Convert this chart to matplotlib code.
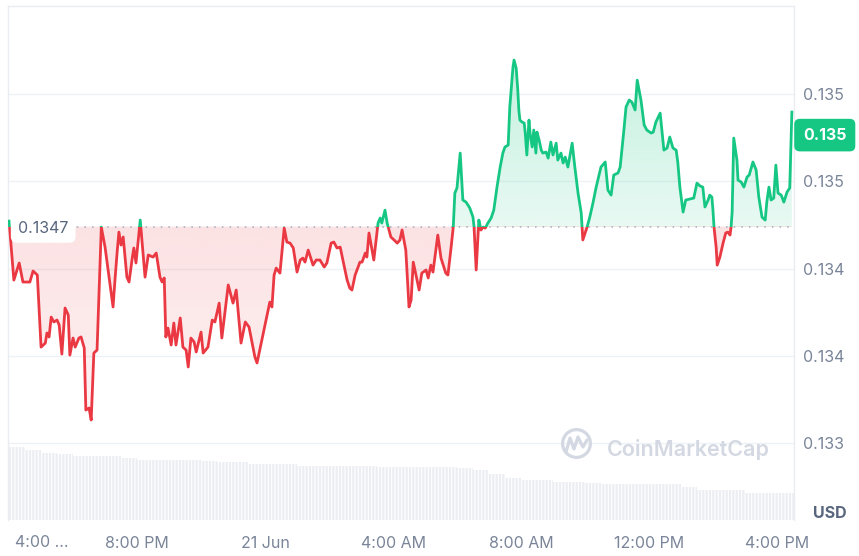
import numpy as np
import matplotlib
matplotlib.use('Agg')
import matplotlib.pyplot as plt
from matplotlib.colors import to_rgb
from matplotlib.patches import Polygon, Rectangle

# price chart, 1 day, minutes counted from 4:00 PM (20 Jun)

GREEN = '#16c784'
RED = '#ea3943'
LABEL_GRAY = '#7a8599'
GRID = '#eff2f5'

minutes = [
    0, 9, 19, 26, 39, 45, 53, 60, 68, 71, 75, 79, 84, 90, 94, 99, 105, 111, 114, 120,
    124, 131, 135, 141, 144, 150, 154, 159, 165, 173, 180, 195, 199, 203, 206, 210, 214, 221, 225, 231,
    234, 238, 246, 255, 261, 270, 276, 283, 287, 291, 294, 298, 304, 309, 313, 321, 326, 332, 336, 341,
    347, 351, 360, 364, 373, 381, 386, 394, 399, 411, 420, 426, 435, 443, 450, 461, 465, 482, 489, 493,
    497, 501, 508, 516, 521, 527, 533, 540, 546, 551, 555, 561, 570, 576, 583, 591, 596, 604, 609, 615,
    621, 626, 634, 639, 643, 649, 658, 662, 668, 671, 675, 684, 692, 696, 699, 705, 709, 716, 722, 728,
    733, 737, 744, 750, 754, 758, 769, 774, 782, 786, 791, 795, 804, 810, 819, 823, 829, 833, 836, 840,
    846, 851, 857, 864, 870, 872, 876, 881, 885, 889, 893, 898, 904, 909, 915, 921, 926, 930, 936, 939,
    945, 947, 951, 954, 956, 958, 962, 966, 968, 971, 975, 977, 981, 984, 988, 990, 994, 998, 1001, 1007,
    1011, 1016, 1020, 1026, 1029, 1035, 1039, 1043, 1048, 1056, 1061, 1067, 1073, 1076, 1084, 1089, 1095, 1101, 1110, 1118,
    1123, 1129, 1134, 1142, 1146, 1153, 1157, 1163, 1168, 1174, 1178, 1185, 1191, 1196, 1204, 1208, 1213, 1221, 1228, 1234,
    1239, 1245, 1251, 1254, 1258, 1264, 1269, 1277, 1284, 1290, 1296, 1301, 1305, 1311, 1314, 1318, 1320, 1322, 1326, 1328,
    1333, 1339, 1344, 1348, 1352, 1354, 1356, 1359, 1365, 1367, 1373, 1378, 1384, 1388, 1395, 1401, 1406, 1412, 1418, 1421,
    1425, 1429, 1434, 1438, 1442, 1448, 1453, 1459, 1464, 1468,
]

price = [
    0.134722, 0.134384, 0.134482, 0.134373, 0.134373, 0.134436, 0.134413, 0.134000, 0.134023, 0.134081,
    0.134058, 0.134172, 0.134144, 0.134155, 0.134126, 0.133960, 0.134224, 0.134184, 0.133954, 0.134052,
    0.134000, 0.134052, 0.134058, 0.133995, 0.133639, 0.133651, 0.133582, 0.133966, 0.133983, 0.134688,
    0.134573, 0.134230, 0.134401, 0.134556, 0.134659, 0.134585, 0.134631, 0.134401, 0.134373, 0.134510,
    0.134568, 0.134482, 0.134728, 0.134401, 0.134528, 0.134516, 0.134539, 0.134401, 0.134373, 0.134396,
    0.134058, 0.134109, 0.134012, 0.134138, 0.134012, 0.134167, 0.134000, 0.133983, 0.133886, 0.134052,
    0.134029, 0.133972, 0.134086, 0.133966, 0.134000, 0.134155, 0.134144, 0.134252, 0.134052, 0.134356,
    0.134252, 0.134327, 0.134023, 0.134144, 0.134115, 0.133943, 0.133909, 0.134155, 0.134258, 0.134230,
    0.134413, 0.134453, 0.134424, 0.134682, 0.134602, 0.134596, 0.134568, 0.134430, 0.134499, 0.134510,
    0.134487, 0.134556, 0.134470, 0.134499, 0.134499, 0.134459, 0.134482, 0.134596, 0.134602, 0.134568,
    0.134573, 0.134499, 0.134384, 0.134338, 0.134327, 0.134413, 0.134487, 0.134487, 0.134539, 0.134516,
    0.134654, 0.134499, 0.134711, 0.134740, 0.134711, 0.134785, 0.134711, 0.134631, 0.134614, 0.134596,
    0.134614, 0.134671, 0.134556, 0.134230, 0.134270, 0.134487, 0.134327, 0.134424, 0.134442, 0.134396,
    0.134470, 0.134430, 0.134642, 0.134510, 0.134424, 0.134413, 0.134573, 0.134688, 0.134883, 0.134912,
    0.135112, 0.134843, 0.134831, 0.134797, 0.134745, 0.134688, 0.134442, 0.134728, 0.134671, 0.134688,
    0.134682, 0.134711, 0.134740, 0.134785, 0.134917, 0.135032, 0.135112, 0.135147, 0.135158, 0.135376,
    0.135605, 0.135645, 0.135599, 0.135473, 0.135359, 0.135301, 0.135290, 0.135284, 0.135227, 0.135101,
    0.135301, 0.135227, 0.135147, 0.135244, 0.135112, 0.135232, 0.135187, 0.135129, 0.135112, 0.135118,
    0.135083, 0.135175, 0.135101, 0.135169, 0.135072, 0.135112, 0.135055, 0.135089, 0.135032, 0.135169,
    0.135032, 0.134883, 0.134768, 0.134614, 0.134688, 0.134745, 0.134826, 0.134917, 0.135032, 0.135061,
    0.134900, 0.134871, 0.134986, 0.134998, 0.135032, 0.135244, 0.135376, 0.135416, 0.135404, 0.135359,
    0.135530, 0.135416, 0.135273, 0.135244, 0.135227, 0.135232, 0.135290, 0.135341, 0.135129, 0.135141,
    0.135204, 0.135141, 0.135129, 0.135061, 0.134917, 0.134774, 0.134843, 0.134849, 0.134854, 0.134940,
    0.134923, 0.134917, 0.134803, 0.134843, 0.134871, 0.134860, 0.134785, 0.134688, 0.134573, 0.134470,
    0.134516, 0.134596, 0.134654, 0.134659, 0.134642, 0.134688, 0.134774, 0.135198, 0.135072, 0.134957,
    0.134946, 0.134917, 0.134975, 0.134986, 0.135061, 0.135015, 0.134860, 0.134745, 0.134728, 0.134831,
    0.134917, 0.134843, 0.134854, 0.135043, 0.134883, 0.134871, 0.134831, 0.134889, 0.134912, 0.135347,
]

# rolling 24h volume (millions), one value per 30 min slot
vol_m = [
    7.26, 7.0, 6.7, 6.6, 6.45, 6.45, 6.45, 6.25, 6.0, 6.0,
    6.0, 6.0, 5.9, 5.8, 5.8, 5.64, 5.64, 5.6, 5.44, 5.44,
    5.44, 5.44, 5.44, 5.3, 5.3, 5.3, 5.3, 5.3, 5.2, 5.0,
    4.6, 4.2, 4.03, 4.0, 3.8, 3.8, 3.7, 3.56, 3.56, 3.56,
    3.56, 3.56, 3.3, 3.0, 2.96, 2.96, 2.7, 2.7, 2.7, 2.7,
]
vol_start = np.arange(len(vol_m)) * 30

open_price = 0.13469
open_label = '0.1347'
last_price = 0.135215
last_label = '0.135'

y_ticks = [0.13345, 0.13395, 0.13445, 0.13495, 0.13545]
y_tick_labels = ['0.133', '0.134', '0.134', '0.135', '0.135']
x_ticks = [240, 480, 720, 960, 1200, 1440]
x_tick_labels = ['8:00 PM', '21 Jun', '4:00 AM', '8:00 AM', '12:00 PM', '4:00 PM']

plt.rcParams['font.family'] = ['Inter', 'DejaVu Sans']

xmin, xmax = -2, 1472
ymin, ymax = 0.133009, 0.135955

fig = plt.figure(figsize=(8.59, 5.56), dpi=100)
ax = fig.add_axes([8 / 859, 36 / 556, 786 / 859, 514 / 556])
ax_vol = ax.twinx()
ax.set_zorder(ax_vol.get_zorder() + 1)
ax.patch.set_visible(False)

# volume bars in the background
plt.rcParams['hatch.linewidth'] = 0.8
ax_vol.bar(vol_start, vol_m, width=30, align='edge', color='#eceef3',
           edgecolor='white', linewidth=0, hatch='|||||')
ax_vol.set_ylim(0, 51.4)
ax_vol.set_yticks([])
for s in ax_vol.spines.values():
    s.set_visible(False)

t = np.array(minutes)
p = np.array(price)

# area between the price and the opening price, used as clip for gradients
verts = np.vstack([np.column_stack([t, p]), [[t[-1], open_price], [t[0], open_price]]])
area = Polygon(verts, closed=True, facecolor='none', edgecolor='none')
ax.add_patch(area)

grad_g = np.zeros((256, 1, 4))
grad_g[..., :3] = to_rgb(GREEN)
grad_g[:, 0, 3] = np.linspace(0.10, 0.30, 256)
im_g = ax.imshow(grad_g, extent=[xmin, xmax, open_price, ymax], origin='lower',
                 aspect='auto', interpolation='bilinear', zorder=1)
im_g.set_clip_path(area)

grad_r = np.zeros((256, 1, 4))
grad_r[..., :3] = to_rgb(RED)
grad_r[:, 0, 3] = np.linspace(0.02, 0.15, 256)
im_r = ax.imshow(grad_r, extent=[xmin, xmax, ymin, open_price], origin='lower',
                 aspect='auto', interpolation='bilinear', zorder=1)
im_r.set_clip_path(area)

# price line, green above the open and red below
line_g, = ax.plot(t, p, color=GREEN, lw=2.0, zorder=3, solid_joinstyle='round')
line_g.set_clip_path(Rectangle((xmin, open_price), xmax - xmin, ymax - open_price,
                               transform=ax.transData))
line_r, = ax.plot(t, p, color=RED, lw=2.0, zorder=3, solid_joinstyle='round')
line_r.set_clip_path(Rectangle((xmin, ymin), xmax - xmin, open_price - ymin,
                               transform=ax.transData))

ax.axhline(open_price, color='#a6adbd', lw=1.1, linestyle=(0, (1, 4)), zorder=2)
ax.annotate(open_label, xy=(0, open_price), xycoords=('axes fraction', 'data'),
            xytext=(7.2, -1), textcoords='offset points', ha='left', va='center',
            fontsize=11.5, color='#58667e', zorder=5,
            bbox=dict(boxstyle='round,pad=0.45,rounding_size=0.4', fc='white', ec='none'))

ax.set_xlim(xmin, xmax)
ax.set_ylim(ymin, ymax)

ax.yaxis.tick_right()
ax.set_yticks(y_ticks)
ax.set_yticklabels(y_tick_labels)
ax.set_xticks(x_ticks)
ax.set_xticklabels(x_tick_labels)
ax.tick_params(axis='y', length=0, pad=6.5, labelsize=11.5, labelcolor=LABEL_GRAY)
ax.tick_params(axis='x', length=0, pad=11.5, labelsize=11.5, labelcolor=LABEL_GRAY)
ax.grid(axis='y', color=GRID, lw=1)
ax.set_axisbelow(True)
ax.annotate('4:00 ...', xy=(0, 0), xycoords=('data', 'axes fraction'), xytext=(4, -16.5),
            textcoords='offset points', ha='left', va='center', fontsize=11.5,
            color=LABEL_GRAY, annotation_clip=False)

for side in ['left', 'top', 'right']:
    ax.spines[side].set_color('#e9ecf1')
    ax.spines[side].set_linewidth(1)
ax.spines['bottom'].set_visible(False)

# last price tag on the right axis
ax.annotate(last_label, xy=(1, last_price), xycoords=('axes fraction', 'data'),
            xytext=(6.5, 0), textcoords='offset points', ha='left', va='center',
            fontsize=11.5, fontweight='bold', color='white', annotation_clip=False,
            bbox=dict(boxstyle='round,pad=0.55,rounding_size=0.35', fc=GREEN, ec='none'))

fig.text(830 / 859, 1 - 514 / 556, 'USD', ha='center', va='center',
         fontsize=11.5, fontweight='bold', color='#58667e')

# watermark
wm = '#d3d8e2'
ax.plot([0.7226], [0.1498], 'o', transform=ax.transAxes, ms=20, mfc='none',
        mec=wm, mew=2.3, zorder=2)
wave_x = [(566 - 8) / 786, (570 - 8) / 786, (574 - 8) / 786, (578 - 8) / 786, (583 - 8) / 786, (587 - 8) / 786]
wave_y = [(520 - 452) / 514, (520 - 438) / 514, (520 - 449) / 514, (520 - 437) / 514, (520 - 447) / 514, (520 - 440) / 514]
ax.plot(wave_x, wave_y, color=wm, lw=2.3, transform=ax.transAxes, zorder=2,
        solid_joinstyle='round', solid_capstyle='round')
ax.text((607 - 8) / 786, (520 - 450) / 514, 'CoinMarketCap', transform=ax.transAxes,
        fontsize=15.5, fontweight='semibold', color=wm, ha='left', va='center', zorder=2)

fig.savefig('out.png', dpi=100)
